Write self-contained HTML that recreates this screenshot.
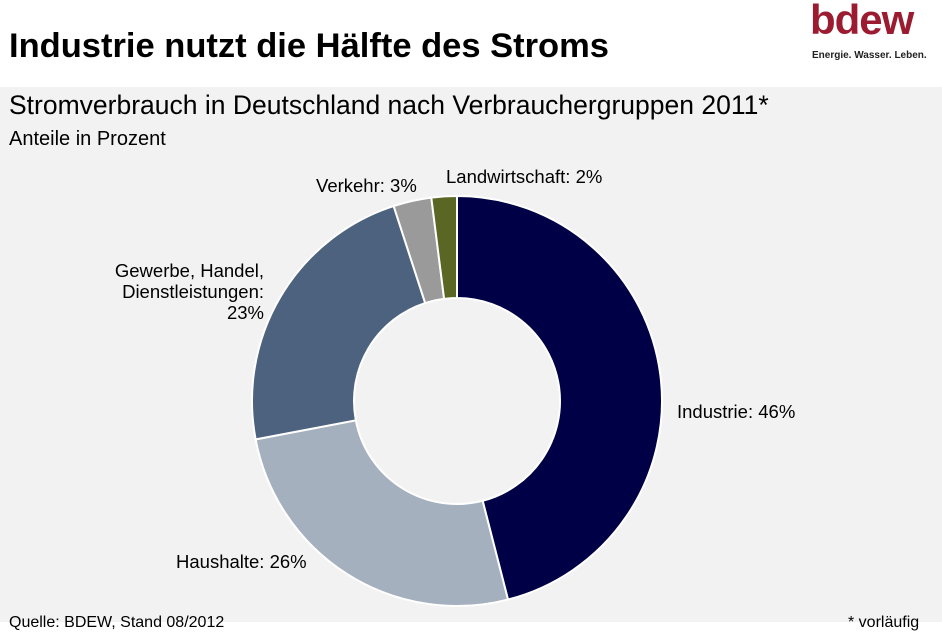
<!DOCTYPE html>
<html><head><meta charset="utf-8"><style>
body{margin:0;width:942px;height:622px;overflow:hidden;background:#fff;font-family:"Liberation Sans",Arial,sans-serif;position:relative}
.bg{position:absolute;left:0;top:87px;width:942px;height:535px;background:#f2f2f2}
.t{position:absolute;white-space:nowrap;color:#000}
</style></head><body>
<div class="bg"></div>
<div class="t" style="left:9px;top:27px;font-size:34.5px;font-weight:bold">Industrie nutzt die Hälfte des Stroms</div>
<div style="position:absolute;left:810px;top:0;width:120px;height:70px">
<div class="t" style="left:0;top:-4px;font-size:42px;font-weight:bold;color:#9b1b30;letter-spacing:-1px">bdew</div>
<div class="t" style="left:2px;top:50px;font-size:10px;font-weight:bold;color:#222">Energie. Wasser. Leben.</div>
</div>
<div class="t" style="left:9px;top:90px;font-size:26.5px">Stromverbrauch in Deutschland nach Verbrauchergruppen 2011*</div>
<div class="t" style="left:9px;top:128px;font-size:20px">Anteile in Prozent</div>
<svg id="c" width="942" height="622" style="position:absolute;left:0;top:0"></svg>
<div class="t" style="left:9px;top:614px;font-size:16px">Quelle:  BDEW, Stand 08/2012</div>
<div class="t" style="left:848px;top:614px;font-size:16px">* vorläufig</div>
<script>
const categories=["Industrie","Haushalte","Gewerbe, Handel, Dienstleistungen","Verkehr","Landwirtschaft"];
const values=[46,26,23,3,2];
const colors=["#000046","#a5b0be","#4d627e","#9a9a9a","#5a6624"];
const labels=[
 {lines:["Industrie: 46%"],x:677,y:418,anchor:"start"},
 {lines:["Haushalte: 26%"],x:176,y:568,anchor:"start"},
 {lines:["Gewerbe, Handel,","Dienstleistungen:","23%"],x:264,y:277,anchor:"end"},
 {lines:["Verkehr: 3%"],x:316,y:192,anchor:"start"},
 {lines:["Landwirtschaft: 2%"],x:446,y:183,anchor:"start"}];
const svg=document.getElementById('c');const NS="http://www.w3.org/2000/svg";
const cx=457,cy=401,R=205,r=103;
const total=values.reduce((a,b)=>a+b,0);
function pt(a,rad){return [cx+rad*Math.sin(a),cy-rad*Math.cos(a)];}
let a0=0;
values.forEach((v,i)=>{
 const a1=a0+v/total*2*Math.PI;const large=(a1-a0)>Math.PI?1:0;
 const p1=pt(a0,R),p2=pt(a1,R),p3=pt(a1,r),p4=pt(a0,r);
 const p=document.createElementNS(NS,'path');
 p.setAttribute('d',`M${p1}A${R},${R} 0 ${large} 1 ${p2}L${p3}A${r},${r} 0 ${large} 0 ${p4}Z`);
 p.setAttribute('fill',colors[i]);p.setAttribute('stroke','#fff');p.setAttribute('stroke-width','2');
 
 
 svg.appendChild(p);a0=a1;
});
labels.forEach((l,i)=>{
 const t=document.createElementNS(NS,'text');
 t.setAttribute('x',l.x);t.setAttribute('y',l.y);t.setAttribute('text-anchor',l.anchor);
 t.setAttribute('font-size','18.5');t.setAttribute('font-family','"Liberation Sans",Arial,sans-serif');
 
 
 l.lines.forEach((s,j)=>{const ts=document.createElementNS(NS,'tspan');ts.setAttribute('x',l.x);ts.setAttribute('dy',j?21:0);ts.textContent=s;t.appendChild(ts);});
 svg.appendChild(t);
});
</script>
</body></html>
